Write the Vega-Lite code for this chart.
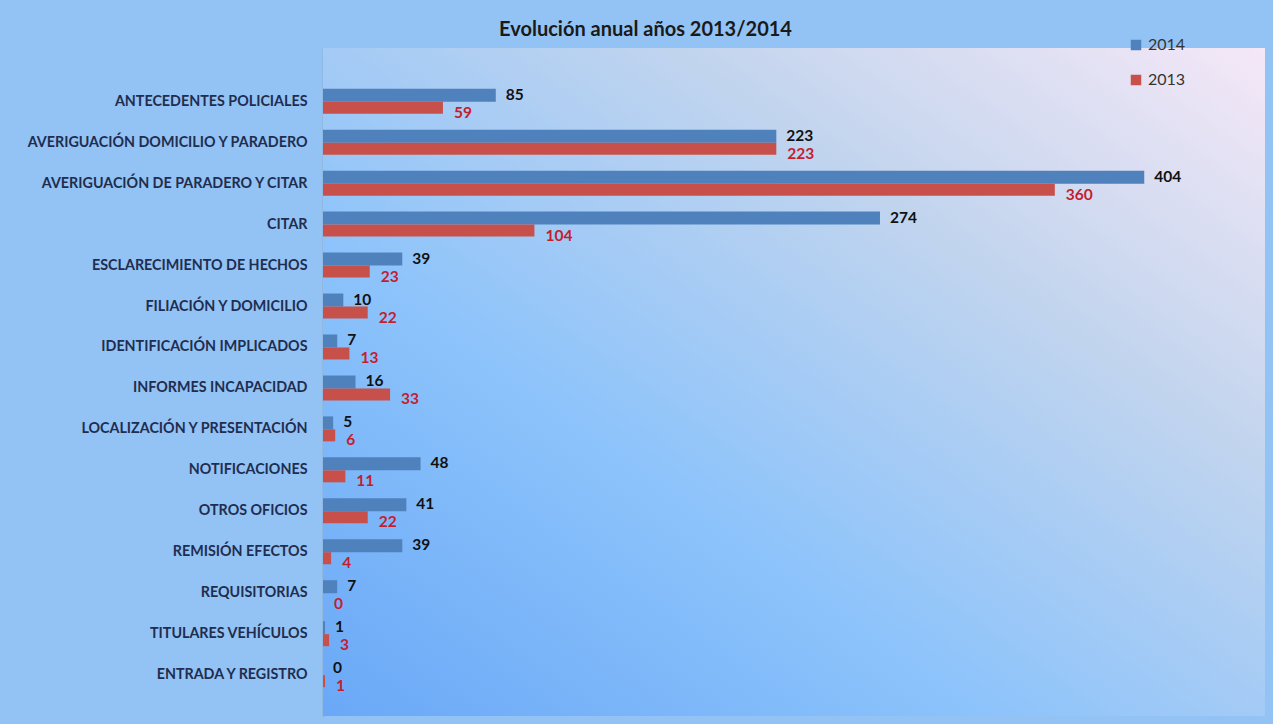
{
  "$schema": "https://vega.github.io/schema/vega-lite/v6.json",
  "width": 1273,
  "height": 724,
  "autosize": {"type": "fit", "contains": "padding"},
  "padding": {"left": 26, "top": 20, "right": 8, "bottom": 8},
  "background": "#93c3f5",
  "title": {
    "text": "Evolución anual años 2013/2014",
    "font": "Lato",
    "fontSize": 20,
    "fontWeight": "bold",
    "color": "#1a1a1a",
    "anchor": "middle",
    "frame": "bounds",
    "offset": 8
  },
  "config": {
    "view": {"stroke": null}
  },
  "data": {
    "values": [
      {"category": "ANTECEDENTES POLICIALES", "year": "2014", "value": 85},
      {"category": "ANTECEDENTES POLICIALES", "year": "2013", "value": 59},
      {"category": "AVERIGUACIÓN DOMICILIO Y PARADERO", "year": "2014", "value": 223},
      {"category": "AVERIGUACIÓN DOMICILIO Y PARADERO", "year": "2013", "value": 223},
      {"category": "AVERIGUACIÓN DE PARADERO Y CITAR", "year": "2014", "value": 404},
      {"category": "AVERIGUACIÓN DE PARADERO Y CITAR", "year": "2013", "value": 360},
      {"category": "CITAR", "year": "2014", "value": 274},
      {"category": "CITAR", "year": "2013", "value": 104},
      {"category": "ESCLARECIMIENTO DE HECHOS", "year": "2014", "value": 39},
      {"category": "ESCLARECIMIENTO DE HECHOS", "year": "2013", "value": 23},
      {"category": "FILIACIÓN Y DOMICILIO", "year": "2014", "value": 10},
      {"category": "FILIACIÓN Y DOMICILIO", "year": "2013", "value": 22},
      {"category": "IDENTIFICACIÓN IMPLICADOS", "year": "2014", "value": 7},
      {"category": "IDENTIFICACIÓN IMPLICADOS", "year": "2013", "value": 13},
      {"category": "INFORMES  INCAPACIDAD", "year": "2014", "value": 16},
      {"category": "INFORMES  INCAPACIDAD", "year": "2013", "value": 33},
      {"category": "LOCALIZACIÓN Y PRESENTACIÓN", "year": "2014", "value": 5},
      {"category": "LOCALIZACIÓN Y PRESENTACIÓN", "year": "2013", "value": 6},
      {"category": "NOTIFICACIONES", "year": "2014", "value": 48},
      {"category": "NOTIFICACIONES", "year": "2013", "value": 11},
      {"category": "OTROS OFICIOS", "year": "2014", "value": 41},
      {"category": "OTROS OFICIOS", "year": "2013", "value": 22},
      {"category": "REMISIÓN EFECTOS", "year": "2014", "value": 39},
      {"category": "REMISIÓN EFECTOS", "year": "2013", "value": 4},
      {"category": "REQUISITORIAS", "year": "2014", "value": 7},
      {"category": "REQUISITORIAS", "year": "2013", "value": 0},
      {"category": "TITULARES VEHÍCULOS", "year": "2014", "value": 1},
      {"category": "TITULARES VEHÍCULOS", "year": "2013", "value": 3},
      {"category": "ENTRADA Y REGISTRO", "year": "2014", "value": 0},
      {"category": "ENTRADA Y REGISTRO", "year": "2013", "value": 1}
    ]
  },
  "layer": [
    {
      "mark": {
        "type": "rect",
        "fill": {
          "gradient": "linear",
          "x1": 0, "y1": 1, "x2": 1, "y2": 0,
          "stops": [
            {"offset": 0, "color": "#6aa8f7"},
            {"offset": 0.35, "color": "#8cc3fb"},
            {"offset": 0.7, "color": "#c3d5ee"},
            {"offset": 1, "color": "#f5e8f7"}
          ]
        }
      },
      "encoding": {}
    },
    {
      "transform": [{"filter": "datum.year === '2014'"}],
      "mark": {"type": "bar", "height": 13, "yOffset": -6.5},
      "encoding": {
        "y": {
          "field": "category",
          "type": "nominal",
          "sort": null,
          "scale": {"paddingInner": 0, "paddingOuter": 0.655, "align": 0.62},
          "axis": {
            "title": null,
            "domain": true,
            "domainColor": "#8a96a8",
            "domainWidth": 1.5,
            "ticks": false,
            "labelPadding": 16,
            "labelFont": "Lato",
            "labelFontSize": 14.3,
            "labelFontWeight": "bold",
            "labelColor": "#1f2d4f",
            "labelLimit": 400
          }
        },
        "x": {
          "field": "value",
          "type": "quantitative",
          "scale": {"domain": [0, 463.4], "nice": false},
          "axis": null
        },
        "color": {
          "field": "year",
          "type": "nominal",
          "scale": {"domain": ["2014", "2013"], "range": ["#4f81bd", "#c8504a"]},
          "legend": {
            "orient": "none",
            "legendX": 805,
            "legendY": -11,
            "title": null,
            "symbolType": "square",
            "symbolSize": 110,
            "symbolStrokeWidth": 0,
            "labelFont": "Lato",
            "labelFontSize": 16,
            "labelColor": "#333333",
            "rowPadding": 19
          }
        }
      }
    },
    {
      "transform": [{"filter": "datum.year === '2013'"}],
      "mark": {"type": "bar", "height": 12, "yOffset": 6},
      "encoding": {
        "y": {"field": "category", "type": "nominal", "sort": null},
        "x": {"field": "value", "type": "quantitative"},
        "color": {"field": "year", "type": "nominal"}
      }
    },
    {
      "transform": [{"filter": "datum.year === '2014'"}],
      "mark": {"type": "text", "align": "left", "baseline": "middle", "dx": 10, "dy": -7, "font": "Lato", "fontSize": 15.5, "fontWeight": "bold", "color": "#111111"},
      "encoding": {
        "y": {"field": "category", "type": "nominal", "sort": null},
        "x": {"field": "value", "type": "quantitative"},
        "text": {"field": "value", "type": "quantitative"}
      }
    },
    {
      "transform": [{"filter": "datum.year === '2013'"}],
      "mark": {"type": "text", "align": "left", "baseline": "middle", "dx": 11, "dy": 11, "font": "Lato", "fontSize": 15.5, "fontWeight": "bold", "color": "#c41e2e"},
      "encoding": {
        "y": {"field": "category", "type": "nominal", "sort": null},
        "x": {"field": "value", "type": "quantitative"},
        "text": {"field": "value", "type": "quantitative"}
      }
    }
  ]
}
